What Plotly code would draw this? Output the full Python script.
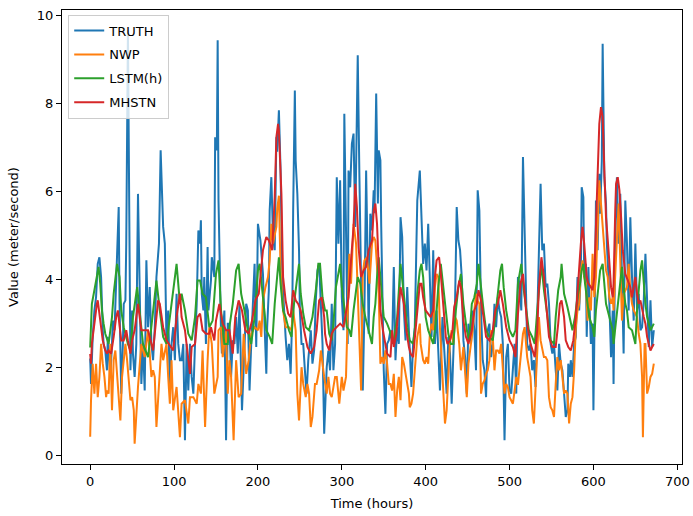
import plotly.graph_objects as go

# ---- data ----
truth_hours = [0,1,3,5,7,9,11,13,15,16,18,20,21,23,24,26,27,29,31,32,34,35,37,39,40,42,43,45,47,48,50,
51,53,55,57,59,61,63,65,67,69,71,73,75,77,79,82,84,86,87,89,91,93,95,97,99,101,103,105,107,
109,111,113,115,117,119,121,123,125,127,129,131,132,133,135,136,138,140,141,144,145,148,149,151,152,153,156,157,160,162,164,
166,168,170,172,174,176,178,181,184,186,188,190,192,194,196,198,200,203,206,208,210,211,213,214,216,218,220,222,
223,225,227,229,231,233,235,237,239,241,242,244,245,247,249,250,252,254,256,258,260,263,265,267,269,271,273,275,277,279,
282,284,286,288,290,292,294,296,298,300,302,303,305,307,308,310,312,314,316,318,319,321,323,325,327,329,331,332,334,336,
338,339,341,343,344,346,347,349,350,352,354,356,358,360,362,364,366,368,370,372,374,376,378,380,383,385,387,390,393,394,
397,399,401,403,405,407,409,411,413,415,417,420,422,425,427,429,431,433,435,437,439,441,443,445,447,449,451,
454,456,458,460,462,464,466,468,470,472,474,476,478,480,482,484,486,488,490,492,494,496,498,500,502,504,506,508,
510,512,514,516,518,520,521,523,525,527,529,531,533,535,537,539,541,543,545,547,549,551,553,555,557,559,561,563,565,
567,569,570,572,573,575,577,579,581,583,585,586,588,589,591,592,594,595,597,599,600,602,603,605,607,608,610,611,613,615,616,618,619,621,623,
624,626,628,630,632,634,636,638,640,642,644,646,648,650,652,654,656,658,660,662,664,666,668,670,672]
truth_values = [2.2,1.62,2.69,3.29,3.59,4.35,4.5,4.05,2.84,2.53,2.38,1.93,2.69,2.16,1.78,2.53,3.06,2.84,4.05,4.88,5.64,3.44,1.4,2.53,3.44,3.52,4.81,9.66,3.9,1.93,3.29,
2.3,1.78,2.53,5.94,3.29,1.62,2.53,1.47,4.43,2.91,3.82,2.53,2.16,2.91,4.05,4.81,6.93,5.56,5.19,4.81,2.53,3.29,1.47,2.53,2.91,2.16,3.67,2.53,2.16,
2.16,2.53,0.34,2.53,1.47,2.53,1.78,1.4,2.53,3.44,5.11,4.81,5.34,3.67,3.29,4.05,2.53,4.73,3.29,3.97,4.5,4.05,7.23,6.93,9.43,5.79,2.76,2.31,3.29,0.34,2.99,
2.99,1.78,2.61,2.53,3.14,2.31,3.44,1.02,2.53,3.44,3.29,1.47,2.53,3.29,4.35,2.46,5.26,4.88,4.12,2.91,1.85,2.91,3.75,5.56,6.32,4.96,4.66,7.23,
6.9,7.84,6.47,4.05,3.29,2.69,2.16,2.53,1.85,3.29,5.56,8.29,6.7,5.94,4.66,3.29,2.53,2.53,1.93,1.4,2.16,2.84,2.08,2.38,3.52,4.2,4.35,3.29,2.53,0.49,
2.0,2.38,1.93,3.44,1.93,2.53,6.32,4.81,6.25,3.59,2.84,7.76,4.81,2.53,6.47,6.09,7.08,7.31,5.19,7.84,9.09,6.32,3.82,1.47,3.29,6.47,4.2,2.76,5.49,5.11,
6.02,5.5,8.22,5.72,6.93,6.7,5.19,3.29,1.93,0.94,2.53,2.61,2.84,2.53,4.28,2.16,2.91,2.53,5.41,4.96,3.29,2.61,3.82,2.84,1.55,2.53,2.91,5.79,6.47,5.94,
4.35,4.81,4.2,5.26,4.05,2.69,4.66,2.53,3.29,2.53,1.47,3.14,2.53,1.4,2.69,2.31,1.17,2.53,3.44,5.64,4.88,4.66,4.05,2.61,2.23,1.4,2.99,
2.53,3.29,2.84,1.93,6.02,5.56,3.29,2.16,1.93,1.32,2.84,2.99,2.23,2.53,3.44,2.91,3.59,3.29,3.14,2.53,0.34,2.23,2.53,1.47,1.4,2.08,2.53,1.4,
4.05,3.9,3.29,6.78,4.81,3.29,2.53,2.38,2.53,1.93,2.16,1.55,3.29,4.81,6.17,4.66,4.81,3.82,3.9,3.44,2.53,2.31,2.53,1.93,1.47,2.53,2.08,1.93,1.4,
0.87,1.02,2.08,1.78,2.16,1.78,2.53,2.69,4.05,3.29,4.2,6.09,5.87,4.05,4.35,2.69,4.28,3.59,2.53,2.99,1.02,4.05,5.79,4.66,6.4,5.49,6.7,9.35,6.32,5.72,4.81,4.05,3.29,2.23,3.29,
1.62,4.81,6.32,4.81,5.94,4.05,2.31,5.79,4.81,3.29,5.41,4.05,3.06,4.81,3.29,3.67,2.84,2.91,3.52,4.58,3.44,2.46,3.52,2.46,2.84]

nwp_hours = [0,1,3,5,7,9,11,13,15,17,19,20,22,24,26,28,30,32,34,36,38,40,42,44,46,48,50,52,53,57,61,65,69,71,73,75,77,79,83,85,87,91,93,95,97,99,103,107,
109,113,117,119,123,127,129,132,134,137,140,142,145,148,152,153,156,158,160,162,164,166,168,171,174,177,180,183,186,189,192,196,200,202,204,206,209,212,214,216,218,222,
223,225,227,230,233,237,240,242,245,247,249,252,254,257,259,261,263,265,268,270,273,275,279,282,284,286,288,292,294,297,300,302,305,307,309,311,314,317,319,321,323,325,327,330,333,336,
338,340,342,344,346,348,350,352,354,356,358,360,362,364,366,368,370,372,374,376,378,380,381,383,385,387,390,393,394,397,399,401,403,405,407,409,411,413,415,417,419,421,423,425,427,429,431,433,435,437,440,442,445,447,449,451,
454,456,458,460,462,464,466,468,470,472,474,476,478,480,482,484,486,488,490,492,494,496,498,500,502,504,506,508,510,513,516,518,520,521,525,527,529,531,533,535,537,539,541,543,545,547,549,551,553,555,557,559,561,563,565,
567,569,571,573,575,577,579,581,583,585,587,589,591,593,595,597,599,601,603,605,607,609,611,613,615,617,619,621,623,624,626,628,630,632,634,636,638,640,642,644,646,648,650,652,654,656,658,659,661,662,664,666,668,670,672]
nwp_values = [0.42,1.25,2.08,1.4,2.08,1.32,1.78,2.53,2.08,1.78,1.32,1.47,1.4,2.53,1.02,2.16,2.38,1.78,1.4,0.79,1.78,2.23,2.53,2.16,1.78,1.25,1.32,1.02,0.26,1.55,2.53,2.23,2.84,2.38,1.78,1.93,1.78,0.64,1.78,2.53,2.16,2.53,1.78,1.17,2.16,1.02,1.55,0.41,
1.17,1.25,0.72,1.32,1.32,1.17,1.62,1.4,2.38,0.64,2.16,2.91,2.53,1.4,1.78,2.84,2.91,2.23,2.53,2.84,1.4,2.16,1.78,0.34,2.16,1.32,1.4,2.76,1.85,2.16,2.76,2.91,2.84,3.06,2.69,3.52,3.82,4.05,4.43,5.26,4.81,5.19,
5.6,5.9,4.2,3.29,2.91,2.91,2.84,3.29,2.84,1.4,0.79,2.0,1.62,1.32,1.62,1.4,0.64,0.87,1.62,1.62,1.93,2.38,1.78,1.4,1.78,1.4,1.32,1.78,1.78,1.17,1.78,1.47,1.78,3.29,4.58,3.9,5.26,4.81,3.82,2.84,1.47,4.12,4.43,4.5,3.9,4.81,
4.96,4.88,4.35,3.67,2.08,2.23,2.08,2.38,2.08,1.62,1.62,1.47,1.85,0.87,1.47,1.78,1.25,2.23,2.08,1.85,1.62,1.4,1.09,1.17,1.4,1.93,2.69,2.99,2.53,2.16,2.08,2.23,2.08,2.76,2.99,2.84,3.82,4.12,4.05,2.91,2.16,1.4,0.72,1.02,1.78,2.61,2.84,2.53,3.14,3.06,2.53,1.93,2.46,1.85,1.32,2.08,
2.53,2.84,3.29,3.67,3.52,3.44,1.4,1.62,1.7,1.85,1.93,2.16,2.84,2.69,1.93,2.38,2.38,2.31,2.53,1.93,1.4,1.62,1.55,1.32,1.25,1.17,1.47,1.78,1.6,2.23,2.76,2.91,2.53,2.23,1.78,1.02,0.72,1.55,2.16,3.14,2.61,2.38,2.23,2.23,2.16,1.32,1.09,1.02,0.87,1.62,2.23,1.93,2.16,1.78,1.4,
1.47,1.4,0.72,1.17,1.32,1.93,2.91,3.29,3.44,4.2,4.43,4.05,3.9,3.06,3.59,3.29,4.58,3.59,4.05,5.41,6.25,5.72,5.26,4.66,4.2,4.05,3.59,3.44,3.59,3.29,4.05,4.81,5.72,4.43,3.06,3.67,3.75,3.82,4.35,3.75,3.44,3.29,3.22,3.14,2.76,2.53,1.78,0.41,2.53,2.53,1.4,1.55,1.78,1.85,2.08]

lstm_hours = [0,2,5,8,10,12,14,16,18,22,26,28,31,32,35,37,40,43,45,48,50,51,56,59,63,69,73,79,83,87,91,97,103,107,109,113,117,121,125,128,131,134,138,142,146,150,153,156,160,164,
166,170,174,177,180,184,188,192,196,200,202,206,210,214,217,220,223,225,227,230,233,237,240,243,246,249,251,254,257,261,265,269,272,274,277,280,
282,285,288,290,293,296,298,300,303,306,309,311,314,317,319,322,325,328,332,336,338,340,342,344,346,348,350,354,357,360,362,366,369,370,373,376,378,381,385,387,390,393,395,
397,400,403,406,409,412,415,418,421,424,427,430,433,436,439,442,445,449,452,455,458,461,463,466,469,472,476,480,483,486,489,491,493,496,500,504,507,
510,514,517,520,523,527,530,533,536,538,541,545,549,553,555,558,561,562,565,569,572,575,578,581,584,586,588,590,593,595,599,601,603,606,608,611,613,615,619,623,
624,626,628,630,632,634,636,638,640,642,646,650,652,654,656,658,660,662,664,666,668,672]
lstm_values = [2.45,3.44,3.75,4.12,4.28,3.9,3.29,2.99,2.76,2.53,3.14,3.67,4.12,4.35,4.05,3.29,2.91,2.69,2.53,2.38,2.84,3.14,3.82,3.29,2.53,2.23,2.91,3.97,3.29,2.69,2.53,3.44,4.35,3.44,3.67,3.29,2.76,2.61,3.14,3.97,3.97,3.67,3.59,2.91,3.06,4.12,4.43,3.29,2.53,2.53,
2.91,3.44,4.2,4.35,3.67,3.29,2.84,2.53,3.14,4.2,4.35,3.59,2.84,2.69,2.53,3.44,4.2,4.5,3.9,3.29,3.14,2.84,2.69,3.44,3.9,4.35,3.67,3.22,2.91,2.84,3.14,3.75,4.35,4.35,3.59,3.29,
3.29,2.76,2.61,2.99,3.82,4.2,4.35,3.82,3.29,2.91,2.84,2.69,3.29,3.75,4.05,3.9,3.44,3.14,2.84,2.53,3.14,3.44,4.05,4.5,4.05,3.52,3.14,2.99,2.84,2.61,2.61,3.14,3.97,4.35,3.82,3.29,2.91,2.61,2.53,2.84,3.67,4.2,4.35,
4.05,3.14,2.84,2.69,2.53,2.99,3.82,4.35,3.75,3.29,2.76,2.53,2.53,3.29,3.82,4.12,3.44,2.84,2.61,3.44,3.59,3.9,4.35,3.75,3.29,2.84,2.69,2.61,3.14,3.82,4.2,4.35,3.82,3.29,2.84,2.69,2.84,
3.9,4.35,3.75,3.29,2.84,2.69,2.53,3.29,3.97,4.35,3.75,3.14,2.61,2.53,3.14,3.75,4.05,4.35,3.67,3.37,3.06,2.84,3.14,3.59,3.9,4.2,4.35,3.9,3.44,3.14,2.91,2.69,3.29,3.9,4.2,4.35,3.82,3.44,3.14,2.84,
2.53,2.91,3.29,3.67,4.05,4.28,3.82,3.44,3.29,2.91,2.84,2.53,3.29,3.82,4.2,4.43,3.9,3.44,3.14,2.99,2.84,2.99]

mhstn_hours = [0,1,2,5,8,9,12,15,18,20,22,25,28,31,33,35,37,40,43,45,48,50,53,57,61,69,75,81,83,87,91,99,103,107,109,113,117,119,121,125,128,131,134,138,142,144,148,150,154,158,162,
166,170,173,177,181,185,189,193,197,201,206,210,213,217,220,222,224,225,228,230,233,236,239,242,245,248,251,255,259,263,267,270,273,276,279,
280,282,285,288,290,294,298,302,305,308,311,314,316,318,320,323,326,329,332,336,338,340,342,344,346,349,352,354,358,360,362,365,368,370,374,377,380,382,385,387,390,393,
395,397,400,403,406,409,411,413,416,418,421,424,426,429,432,434,437,440,442,445,448,451,452,455,458,461,463,466,469,472,476,480,483,486,489,492,496,500,504,507,
510,513,516,518,521,525,530,533,535,538,541,545,547,551,555,558,560,562,565,567,570,573,576,579,582,585,587,589,592,594,597,599,601,603,605,607,609,611,613,615,618,621,623,
624,626,627,629,631,633,635,638,641,644,646,648,650,652,654,656,658,660,662,664,666,668,670,672]
mhstn_values = [2.3,2.08,2.53,3.06,3.44,3.52,3.06,2.61,2.38,2.31,2.38,2.31,2.69,3.14,3.29,2.99,2.61,2.61,2.84,2.61,2.31,2.61,2.84,3.44,2.84,2.84,2.38,3.52,3.44,2.91,2.61,2.38,3.14,3.67,3.14,2.84,2.16,1.85,2.46,2.53,3.14,3.22,2.84,2.76,2.76,2.91,2.61,3.06,3.44,2.99,2.84,
2.84,2.31,3.14,3.52,3.29,2.84,2.76,3.06,3.52,3.67,4.66,4.96,4.88,4.66,5.87,7.23,7.53,7.38,5.94,4.05,3.52,3.22,3.14,3.75,3.52,3.44,3.29,2.84,2.46,2.31,2.46,2.84,3.52,3.59,3.14,
2.76,2.53,2.38,2.76,2.84,2.91,2.99,2.91,3.29,3.59,4.43,5.19,6.17,5.64,4.73,4.05,4.2,4.28,4.66,4.88,5.56,5.72,5.26,4.05,3.29,2.84,2.46,2.31,2.23,2.84,2.46,2.76,3.44,3.82,3.44,2.84,2.46,2.31,2.23,2.61,3.29,3.9,
3.9,3.59,3.29,3.22,3.14,3.29,4.05,4.43,4.5,4.12,3.44,2.69,2.53,2.61,2.84,3.37,3.59,3.97,3.82,3.06,2.69,2.53,2.61,2.84,3.29,3.44,3.75,3.52,3.14,2.69,2.61,2.84,3.29,3.44,3.75,3.44,2.91,2.61,2.46,2.23,
3.2,3.9,4.12,3.59,2.99,2.53,2.23,2.84,3.82,4.5,4.05,3.14,2.69,2.46,2.46,2.99,3.44,3.52,3.14,2.61,2.46,2.38,2.61,3.14,4.05,4.81,5.19,4.81,4.05,3.9,3.82,3.75,4.05,5.19,6.17,7.53,7.91,7.69,6.47,5.41,4.66,3.82,3.59,
3.9,5.56,6.17,6.32,6.02,5.41,4.66,4.12,3.97,3.82,3.59,3.82,4.05,3.67,3.44,3.52,3.29,3.14,2.99,2.69,2.53,2.38,2.46,2.53]

series = [
    ("TRUTH", truth_hours, truth_values, "#1f77b4"),
    ("NWP", nwp_hours, nwp_values, "#ff7f0e"),
    ("LSTM(h)", lstm_hours, lstm_values, "#2ca02c"),
    ("MHSTN", mhstn_hours, mhstn_values, "#d62728"),
]

x_ticks = [0, 100, 200, 300, 400, 500, 600, 700]
y_ticks = [0, 2, 4, 6, 8, 10]

fig = go.Figure()
for name, xs, ys, color in series:
    fig.add_trace(go.Scatter(x=xs, y=ys, mode="lines", name=name, legendgroup=name,
                             line=dict(color=color, width=2)))

axis_common = dict(showgrid=False, zeroline=False, showline=True, linecolor="black",
                   linewidth=1, mirror=True, ticks="outside", ticklen=5, tickwidth=1,
                   tickcolor="black", tickfont=dict(size=13, color="black"),
                   automargin=False)

fig.update_layout(
    width=693, height=516,
    margin=dict(l=62, r=11, t=10, b=52, autoexpand=False),
    paper_bgcolor="white", plot_bgcolor="white",
    font=dict(family="DejaVu Sans", size=13, color="black"),
    xaxis=dict(range=[-33.6, 705.6], tickvals=x_ticks,
               title=dict(text="Time (hours)", font=dict(size=13), standoff=11), **axis_common),
    yaxis=dict(range=[-0.2, 10.12], tickvals=y_ticks,
               title=dict(text="Value (meter/second)", font=dict(size=13), standoff=15), **axis_common),
    legend=dict(x=0.01, y=0.99, xanchor="left", yanchor="top",
                bgcolor="rgba(255,255,255,0.8)", bordercolor="#cccccc", borderwidth=1,
                font=dict(size=13), tracegroupgap=4, itemwidth=30),
    showlegend=True,
)

fig.write_html("out.html", config={"displayModeBar": False},
               post_script="document.body.style.margin='0';document.body.style.overflow='hidden';")
